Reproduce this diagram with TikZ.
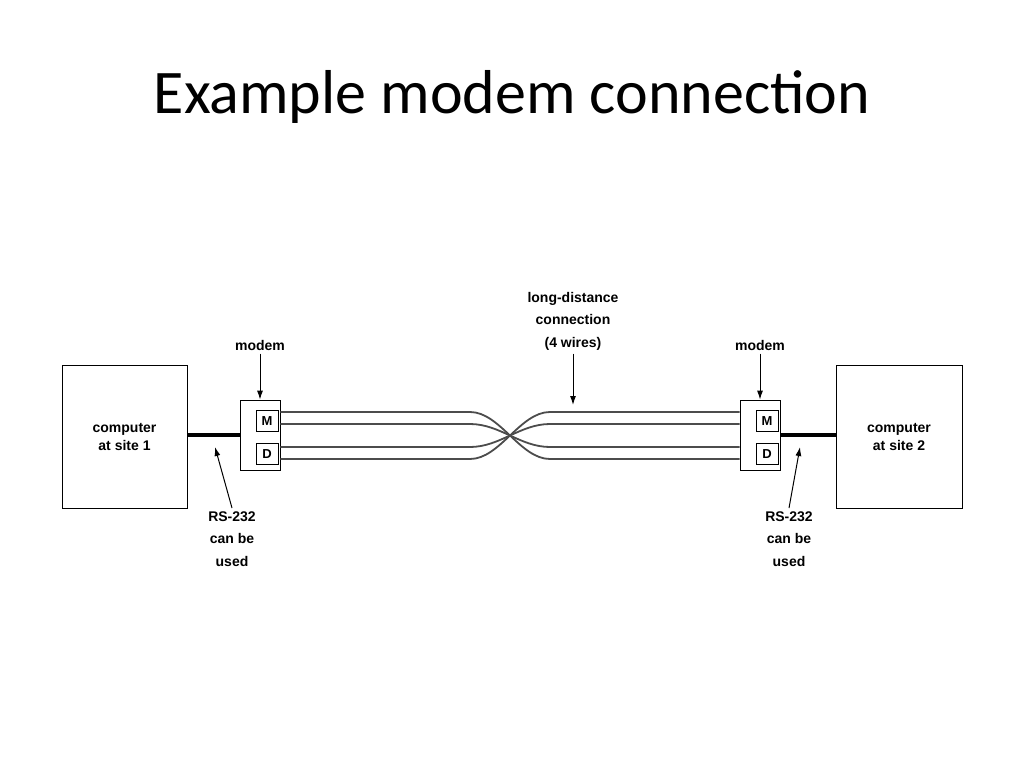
\documentclass[tikz,border=0pt]{standalone}
\usepackage{fontspec}
\setmainfont{Liberation Sans}
\newfontfamily\titlefont{Carlito}
\usetikzlibrary{positioning,arrows.meta}
\tikzset{
  box/.style={draw, line width=0.8pt, inner sep=0pt},
  lbl/.style={font=\bfseries\fontsize{14}{22.5}\selectfont, align=center},
  wire/.style={draw=gray!60!black, line width=1.8pt},
  plug/.style={line width=3.5pt},
  ptr/.style={-{Latex[length=9pt,width=6pt]}, line width=1pt}
}
\begin{document}
\begin{tikzpicture}[x=1pt,y=-1pt]
    \useasboundingbox (0,0) rectangle (1024,768);
    % title
    \node (title) at (512,97) {\titlefont\fontsize{62}{70}\selectfont Example modem connection};

    % computers
    \node[box, minimum width=125pt, minimum height=143pt, lbl, font=\bfseries\fontsize{14}{18}\selectfont] (pc1) at (124.5,436.5) {computer\\at site 1};
    \node[box, minimum width=126pt, minimum height=143pt, lbl, font=\bfseries\fontsize{14}{18}\selectfont] (pc2) at (899,436.5) {computer\\at site 2};

    % modems
    \node[box, minimum width=40pt, minimum height=70pt] (mod1) at (260,435) {};
    \node[box, minimum width=40pt, minimum height=70pt] (mod2) at (760,435) {};
    \foreach \m/\s in {mod1/1, mod2/2} {
        \node[box, minimum width=22pt, minimum height=21pt, font=\bfseries\fontsize{13}{15}\selectfont] (m\s) at ([xshift=7pt,yshift=14pt]\m.center) {M};
        \node[box, minimum width=22pt, minimum height=21pt, font=\bfseries\fontsize{13}{15}\selectfont] (d\s) at ([xshift=7pt,yshift=-19pt]\m.center) {D};
    }

    % RS-232 lines
    \draw[plug] (pc1.east |- mod1.west) -- (mod1.west);
    \draw[plug] (mod2.east) -- (pc2.west |- mod2.east);

    % wires, crossing in the middle
    \foreach \a/\b in {412/459, 424/447, 447/424, 459/412}
    \draw[wire] (mod1.east |- 0,\a) -- (470,\a) .. controls (500,\a) and (520,\b) .. (550,\b) -- (mod2.west |- 0,\b);

    % labels
    \node[lbl] (lab1) at (260,345) {modem};
    \node[lbl] (lab2) at (760,345) {modem};
    \node[lbl] (link) at (573,321) {long-distance\\connection\\(4 wires)};
    \node[lbl] (rs1) at (232,539) {RS-232\\can be\\used};
    \node[lbl] (rs2) at (789,539) {RS-232\\can be\\used};

    % arrows
    \draw[ptr] (lab1) -- (mod1.north);
    \draw[ptr] (lab2) -- (mod2.north);
    \draw[ptr] (link) -- (573,405);
    \draw[ptr] (rs1.north) -- (215,447);
    \draw[ptr] (rs2.north) -- (800,447);
\end{tikzpicture}
\end{document}
